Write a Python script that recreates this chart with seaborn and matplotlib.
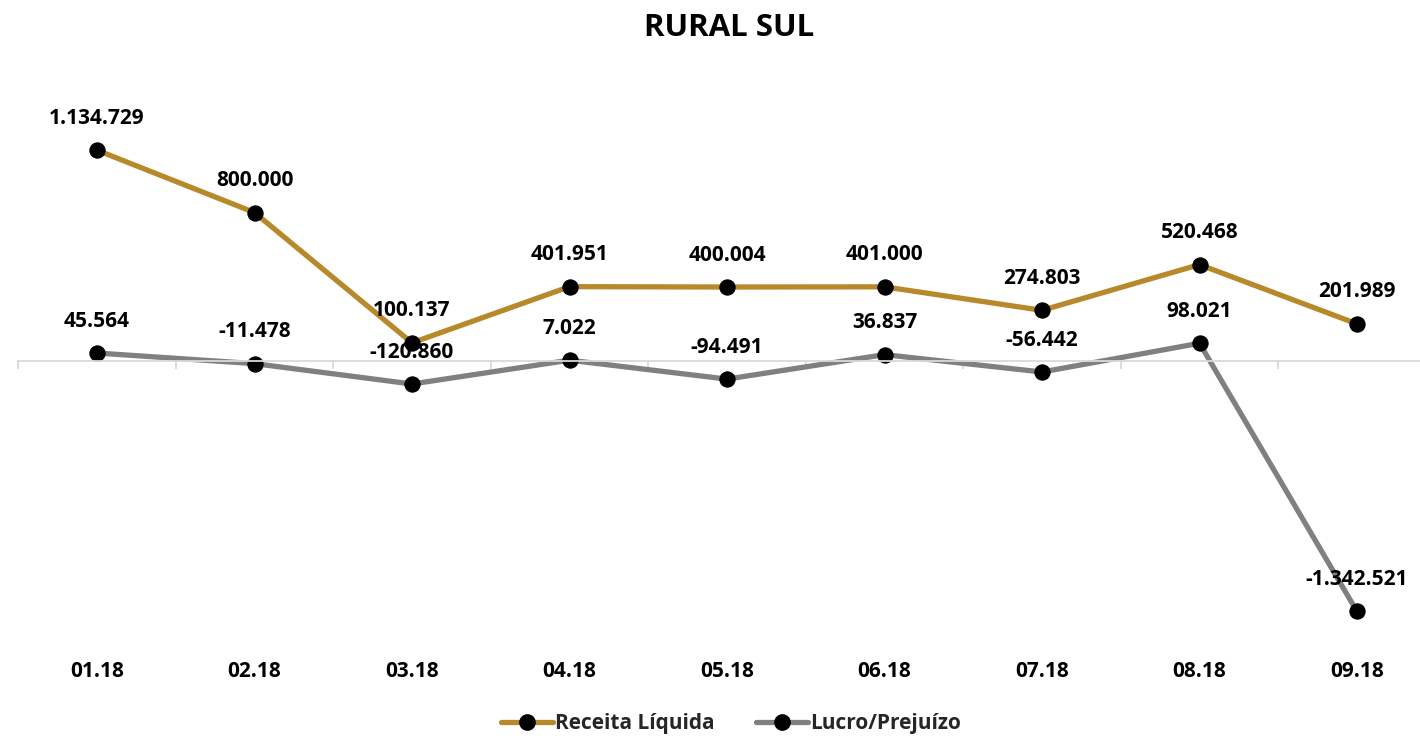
import numpy as np
import pandas as pd
import matplotlib.pyplot as plt
import seaborn as sns
from matplotlib.lines import Line2D
from matplotlib.transforms import blended_transform_factory

months = ['01.18', '02.18', '03.18', '04.18', '05.18', '06.18', '07.18', '08.18', '09.18']
receita = [1134729, 800000, 100137, 401951, 400004, 401000, 274803, 520468, 201989]
lucro = [45564, -11478, -120860, 7022, -94491, 36837, -56442, 98021, -1342521]
series = ['Receita Líquida', 'Lucro/Prejuízo']
colors = ['#B8892B', '#808080']

df = pd.DataFrame({
    'mes': months * 2,
    'x': list(range(len(months))) * 2,
    'valor': receita + lucro,
    'serie': [series[0]] * len(months) + [series[1]] * len(months),
})

sns.set_style('white')
plt.rcParams['font.family'] = ['Open Sans', 'DejaVu Sans']
plt.rcParams['font.weight'] = 'bold'

fig = plt.figure(figsize=(14.2, 7.36), dpi=100)
ax = fig.add_axes([18.25 / 1420, 96 / 736, 1417.5 / 1420, 560 / 736])

sns.lineplot(data=df, x='x', y='valor', hue='serie', palette=colors, ax=ax,
             linewidth=3.8, marker='o', markersize=11, markerfacecolor='black',
             markeredgecolor='black', legend=False)

ax.set_xlim(-0.5, 8.5)
ax.set_ylim(-1495700, 1511800)

for s in ['top', 'left', 'right']:
    ax.spines[s].set_visible(False)
ax.spines['bottom'].set_position(('data', 0))
ax.spines['bottom'].set_color('#D9D9D9')
ax.spines['bottom'].set_linewidth(1.3)
ax.set_xticks(range(len(months)))
ax.set_xticklabels([])
ax.set_xticks(np.arange(-0.5, len(months)), minor=True)
ax.tick_params(axis='x', which='major', length=0, bottom=True)
ax.tick_params(axis='x', which='minor', length=6, width=1.3, color='#D9D9D9',
               direction='out', bottom=True)
ax.set_yticks([])
ax.set_xlabel('')
ax.set_ylabel('')

fmt = lambda v: f'{v:,}'.replace(',', '.')
for _, r in df.iterrows():
    ax.annotate(fmt(r['valor']), (r['x'], r['valor']), xytext=(0, 32),
                textcoords='offset pixels', ha='center', va='center',
                fontsize=15, fontweight='bold', color='black', zorder=5)

trans = blended_transform_factory(ax.transData, ax.transAxes)
for i, m in enumerate(months):
    ax.text(i, -0.057, m, transform=trans, ha='center', va='center',
            fontsize=15, fontweight='bold', color='black')

fig.text(729 / 1420, 1 - 28 / 736, 'RURAL SUL', ha='center', va='center',
         fontsize=22.5, fontweight='bold', color='black')

handles = [Line2D([], [], color=c, linewidth=3.8, marker='o', markersize=11,
                  markerfacecolor='black', markeredgecolor='black') for c in colors]
fig.legend(handles, series, loc='center', bbox_to_anchor=(731 / 1420, 1 - 724 / 736),
           ncol=2, frameon=False, handlelength=2.5, handletextpad=0.1,
           columnspacing=2.0, prop={'weight': 'bold', 'size': 15})

fig.savefig('out.png', dpi=100)
